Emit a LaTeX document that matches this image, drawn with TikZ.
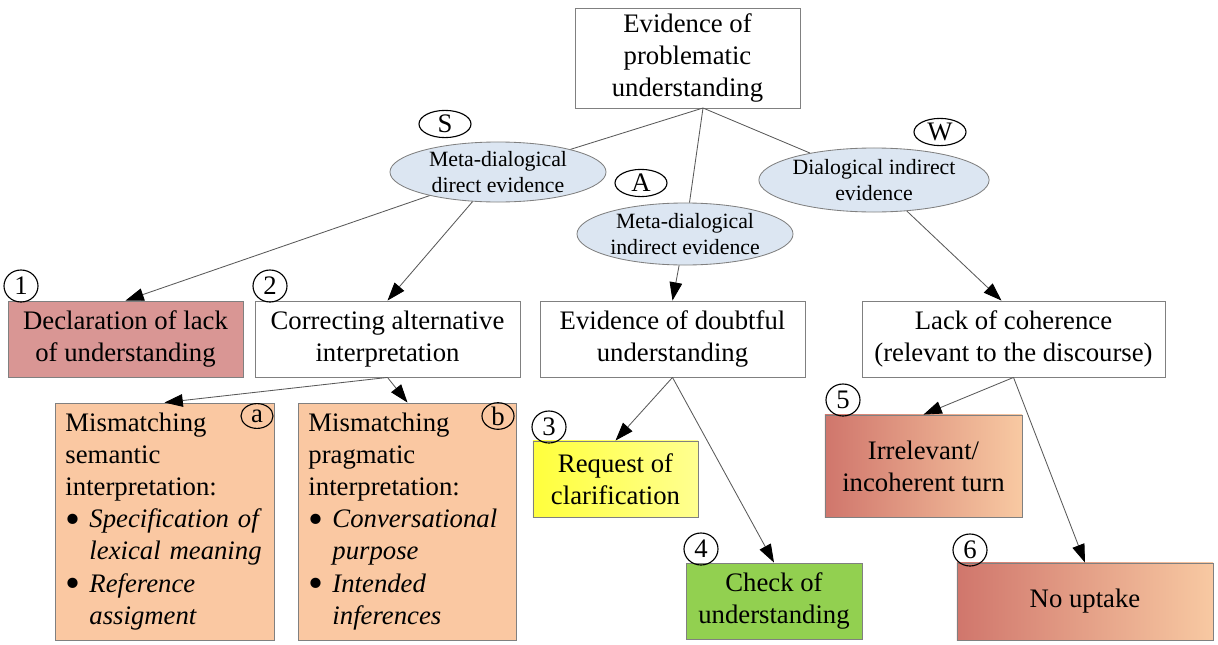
\documentclass[tikz,border=0pt]{standalone}
\usepackage{fontspec}
\setmainfont{Liberation Serif}
\usetikzlibrary{arrows.meta, shapes.geometric, positioning}

\definecolor{evidfill}{HTML}{DCE6F2}
\definecolor{rosefill}{HTML}{D99694}
\definecolor{peachfill}{HTML}{FAC8A2}
\definecolor{greenfill}{HTML}{92D050}
\definecolor{redleft}{HTML}{D0766C}
\definecolor{redright}{HTML}{F8C9A2}
\definecolor{yellowleft}{HTML}{FFFF3C}
\definecolor{yellowright}{HTML}{FFFF90}
\definecolor{linegray}{HTML}{595959}

\newcommand{\bulletline}[2]{\makebox[0.6cm][l]{\raisebox{-0.2em}[0pt][0pt]{\scalebox{1.6}{\textbullet}}}\textit{#1}\\\hspace*{0.6cm}\textit{#2}}

\begin{document}
\begin{tikzpicture}[
			x=0.025cm, y=-0.025cm,
			box/.style={draw=gray, line width=0.6pt, rectangle, align=center, inner sep=0pt, font=\fontsize{19}{22.8}\selectfont},
			listbox/.style={box, align=left, inner xsep=0.25cm, text width=4.95cm, minimum height=5.925cm, fill=peachfill},
			evidence/.style={draw=gray, line width=0.6pt, ellipse, fill=evidfill, align=center, inner sep=0pt, minimum width=5.4cm, font=\fontsize{15.5}{18.9}\selectfont},
			tag/.style={draw, line width=0.8pt, ellipse, inner sep=0pt, minimum width=0.85cm, minimum height=0.8cm, font=\fontsize{19}{22.8}\selectfont},
			lettertag/.style={tag, minimum width=1.3cm, minimum height=0.68cm},
			subtag/.style={tag, minimum width=0.8cm, minimum height=0.62cm},
			link/.style={draw=linegray, line width=0.6pt},
			arrow/.style={link, -{Triangle[length=13pt, width=9pt, black]}}
			]
			\useasboundingbox (0,0) rectangle (1218,645);

			\node[box, minimum width=5.625cm, minimum height=2.5cm] (problem) at (687.5,58) {Evidence of\\ problematic\\ understanding};
			\coordinate (fork) at (703,108);

			\node[evidence, minimum height=1.5cm] (direct) at (498,172) {Meta-dialogical\\ direct evidence};
			\node[evidence, minimum height=1.55cm] (metaind) at (685,234) {Meta-dialogical\\ indirect evidence};
			\node[evidence, minimum height=1.6cm] (dialind) at (874,180) {Dialogical indirect\\ evidence};
			\node[lettertag] (tagS) at (445,124) {S};
			\node[lettertag] (tagA) at (641,183) {A};
			\node[lettertag] (tagW) at (940,132) {W};

			\node[box, fill=rosefill, minimum width=5.875cm, minimum height=1.9cm] (declaration) at (125.5,339) {Declaration of lack\\ of understanding};
			\node[box, minimum width=6.625cm, minimum height=1.9cm] (correcting) at (387.5,339) {Correcting alternative\\ interpretation};
			\node[box, minimum width=6.625cm, minimum height=1.9cm] (doubtful) at (672.5,339) {Evidence of doubtful\\ understanding};
			\node[box, minimum width=7.575cm, minimum height=1.9cm] (coherence) at (1013.5,339) {Lack of coherence\\ (relevant to the discourse)};
			\node[tag] (tag1) at (21,286) {1};
			\node[tag] (tag2) at (270,286) {2};

			\node[listbox, minimum width=5.475cm] (semantic) at (164.5,521.5) {Mismatching\\ semantic\\ interpretation:\\ \bulletline{Specification of}{lexical meaning}\\ \bulletline{Reference}{assigment}};
			\node[listbox, minimum width=5.425cm] (pragmatic) at (407.5,521.5) {Mismatching\\ pragmatic\\ interpretation:\\ \bulletline{Conversational}{purpose}\\ \bulletline{Intended}{inferences}};
			\node[subtag] (taga) at (257,416) {a};
			\node[subtag] (tagb) at (498,416) {b};

			\node[box, left color=yellowleft, right color=yellowright, minimum width=4.125cm, minimum height=1.9cm] (request) at (615.5,479) {Request of\\ clarification};
			\node[box, fill=greenfill, minimum width=4.4cm, minimum height=1.9cm] (check) at (774,601) {Check of\\ understanding};
			\node[box, left color=redleft, right color=redright, minimum width=4.925cm, minimum height=2.55cm] (irrelevant) at (923.5,466) {Irrelevant/\\ incoherent turn};
			\node[box, left color=redleft, right color=redright, minimum width=6.4cm, minimum height=1.925cm] (uptake) at (1085,601.5) {No uptake};
			\node[tag] (tag3) at (549,427) {3};
			\node[tag] (tag4) at (701,549) {4};
			\node[tag] (tag5) at (843,400) {5};
			\node[tag] (tag6) at (970,550) {6};

			\draw[link] (fork) -- (direct);
			\draw[link] (fork) -- (metaind);
			\draw[link] (fork) -- (dialind);
			\draw[arrow] (direct) -- (declaration.north);
			\draw[arrow] (direct) -- (correcting.north);
			\draw[arrow] (metaind) -- (doubtful.north);
			\draw[arrow] (dialind) -- ([xshift=-0.3cm]coherence.north);
			\draw[arrow] (correcting.south) -- (semantic.north);
			\draw[arrow] (correcting.south) -- (pragmatic.north);
			\draw[arrow] (doubtful.south) -- (request.north);
			\draw[arrow] (doubtful.south) -- (check.north);
			\draw[arrow] (coherence.south) -- (irrelevant.north);
			\draw[arrow] (coherence.south) -- (uptake.north);
		\end{tikzpicture}
\end{document}
